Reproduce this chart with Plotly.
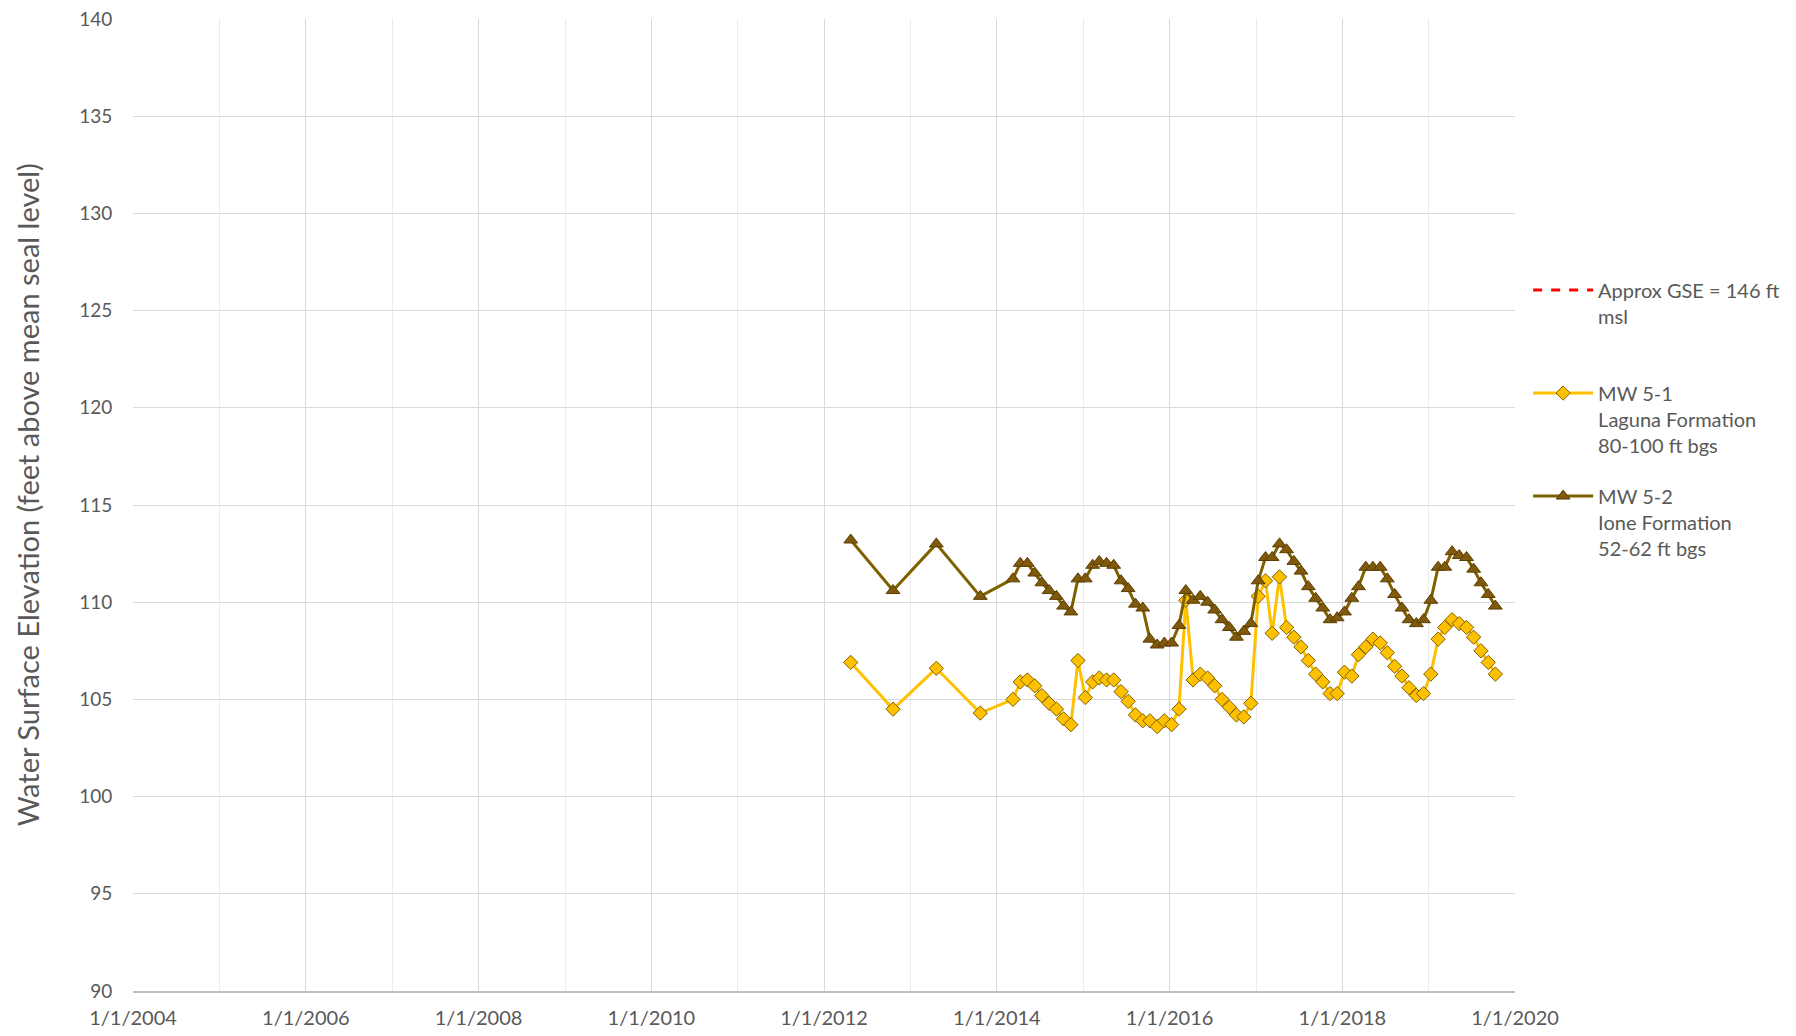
import plotly.graph_objects as go

# --- data ---
early_dates = ["2012-04-23", "2012-10-19", "2013-04-20", "2013-10-23"]

monthly_dates = [
    "2014-03-10", "2014-04-10", "2014-05-10", "2014-06-10", "2014-07-10", "2014-08-10",
    "2014-09-10", "2014-10-10", "2014-11-10", "2014-12-10",
    "2015-01-10", "2015-02-10", "2015-03-10", "2015-04-10", "2015-05-10", "2015-06-10",
    "2015-07-10", "2015-08-10", "2015-09-10", "2015-10-10", "2015-11-10", "2015-12-10",
    "2016-01-10", "2016-02-10", "2016-03-10", "2016-04-10", "2016-05-10", "2016-06-10",
    "2016-07-10", "2016-08-10", "2016-09-10", "2016-10-10", "2016-11-10", "2016-12-10",
    "2017-01-10", "2017-02-10", "2017-03-10", "2017-04-10", "2017-05-10", "2017-06-10",
    "2017-07-10", "2017-08-10", "2017-09-10", "2017-10-10", "2017-11-10", "2017-12-10",
    "2018-01-10", "2018-02-10", "2018-03-10", "2018-04-10", "2018-05-10", "2018-06-10",
    "2018-07-10", "2018-08-10", "2018-09-10", "2018-10-10", "2018-11-10", "2018-12-10",
    "2019-01-10", "2019-02-10", "2019-03-10", "2019-04-10", "2019-05-10", "2019-06-10",
    "2019-07-10", "2019-08-10", "2019-09-10", "2019-10-10",
]

mw51_early = [106.9, 104.5, 106.6, 104.3]
mw51_monthly = [
    105.0, 105.9, 106.0, 105.7, 105.2, 104.8, 104.5, 104.0, 103.7, 107.0,
    105.1, 105.9, 106.1, 106.0, 106.0, 105.4, 104.9, 104.2, 103.9, 103.9, 103.6, 103.9,
    103.7, 104.5, 110.1, 106.0, 106.3, 106.1, 105.7, 105.0, 104.6, 104.2, 104.1, 104.8,
    110.3, 111.1, 108.4, 111.3, 108.7, 108.2, 107.7, 107.0, 106.3, 105.9, 105.3, 105.3,
    106.4, 106.2, 107.3, 107.7, 108.1, 107.9, 107.4, 106.7, 106.2, 105.6, 105.2, 105.3,
    106.3, 108.1, 108.7, 109.1, 108.9, 108.7, 108.2, 107.5, 106.9, 106.3,
]

mw52_early = [113.2, 110.6, 113.0, 110.3]
mw52_monthly = [
    111.2, 112.0, 112.0, 111.5, 111.0, 110.6, 110.3, 109.8, 109.5, 111.2,
    111.2, 111.9, 112.1, 112.0, 111.9, 111.1, 110.7, 109.9, 109.7, 108.1, 107.8, 107.9,
    107.9, 108.8, 110.6, 110.1, 110.3, 110.0, 109.6, 109.1, 108.7, 108.2, 108.5, 108.9,
    111.1, 112.3, 112.3, 113.0, 112.7, 112.1, 111.6, 110.8, 110.2, 109.7, 109.1, 109.2,
    109.5, 110.2, 110.8, 111.8, 111.8, 111.8, 111.2, 110.4, 109.7, 109.1, 108.9, 109.1,
    110.1, 111.8, 111.8, 112.6, 112.4, 112.3, 111.7, 111.0, 110.4, 109.8,
]

gse_dates = ["2004-01-01", "2020-01-01"]
gse_values = [146, 146]

TEXT = "#595959"
FONT = "Lato"

fig = go.Figure()

fig.add_trace(go.Scatter(
    x=gse_dates, y=gse_values, mode="lines",
    name="Approx GSE = 146 ft<br>msl<br> ",
    line=dict(color="#FF0000", width=3, dash="dash"),
    legendgroup="gse",
))
fig.add_trace(go.Scatter(
    x=early_dates + monthly_dates, y=mw51_early + mw51_monthly, mode="lines+markers",
    name="MW 5-1<br>Laguna Formation<br>80-100 ft bgs",
    line=dict(color="#FFC000", width=3),
    marker=dict(symbol="diamond", size=11, color="#FFC000",
                line=dict(color="#7F6000", width=1)),
    legendgroup="mw51",
))
fig.add_trace(go.Scatter(
    x=early_dates + monthly_dates, y=mw52_early + mw52_monthly, mode="lines+markers",
    name="MW 5-2<br>Ione Formation<br>52-62 ft bgs",
    line=dict(color="#7F6000", width=3),
    marker=dict(symbol="triangle-up", size=12, color="#7F5A0C",
                line=dict(color="#5C3D00", width=1)),
    legendgroup="mw52",
))

fig.update_layout(
    font=dict(family=FONT, color=TEXT, size=18),
    paper_bgcolor="white",
    plot_bgcolor="white",
    margin=dict(l=125, r=273, t=11, b=37),
    showlegend=True,
    legend=dict(
        xref="container", yref="container",
        x=0.854, y=0.7426, xanchor="left", yanchor="top",
        font=dict(size=20, color=TEXT),
        valign="top",
        tracegroupgap=22,
        itemwidth=60,
        bgcolor="rgba(0,0,0,0)",
    ),
    annotations=[dict(
        text="Water Surface Elevation (feet above mean seal level)",
        xref="paper", yref="paper", x=0, y=0.51, xshift=-106,
        xanchor="center", yanchor="middle", textangle=-90,
        showarrow=False, font=dict(size=29, color=TEXT),
    )],
)

fig.update_xaxes(
    type="date",
    range=["2004-01-01", "2020-01-01"],
    tick0="2004-01-01", dtick="M24",
    tickformat="%-m/%-d/%Y",
    showgrid=True, gridcolor="#D9D9D9", gridwidth=1,
    minor=dict(dtick="M12", showgrid=True, gridcolor="#EBEBEB", gridwidth=1),
    showline=True, linecolor="#BFBFBF", linewidth=1.5,
    ticks="outside", ticklen=8, tickcolor="rgba(0,0,0,0)",
    tickfont=dict(size=20, color=TEXT),
    ticklabeloverflow="allow",
    zeroline=False, automargin=False,
)
fig.update_yaxes(
    range=[90, 140], dtick=5,
    showgrid=True, gridcolor="#D9D9D9", gridwidth=1,
    showline=False, zeroline=False,
    ticks="outside", ticklen=16, tickcolor="rgba(0,0,0,0)",
    tickfont=dict(size=19, color=TEXT),
    ticklabeloverflow="allow",
    automargin=False,
)

fig.write_html("out.html")
